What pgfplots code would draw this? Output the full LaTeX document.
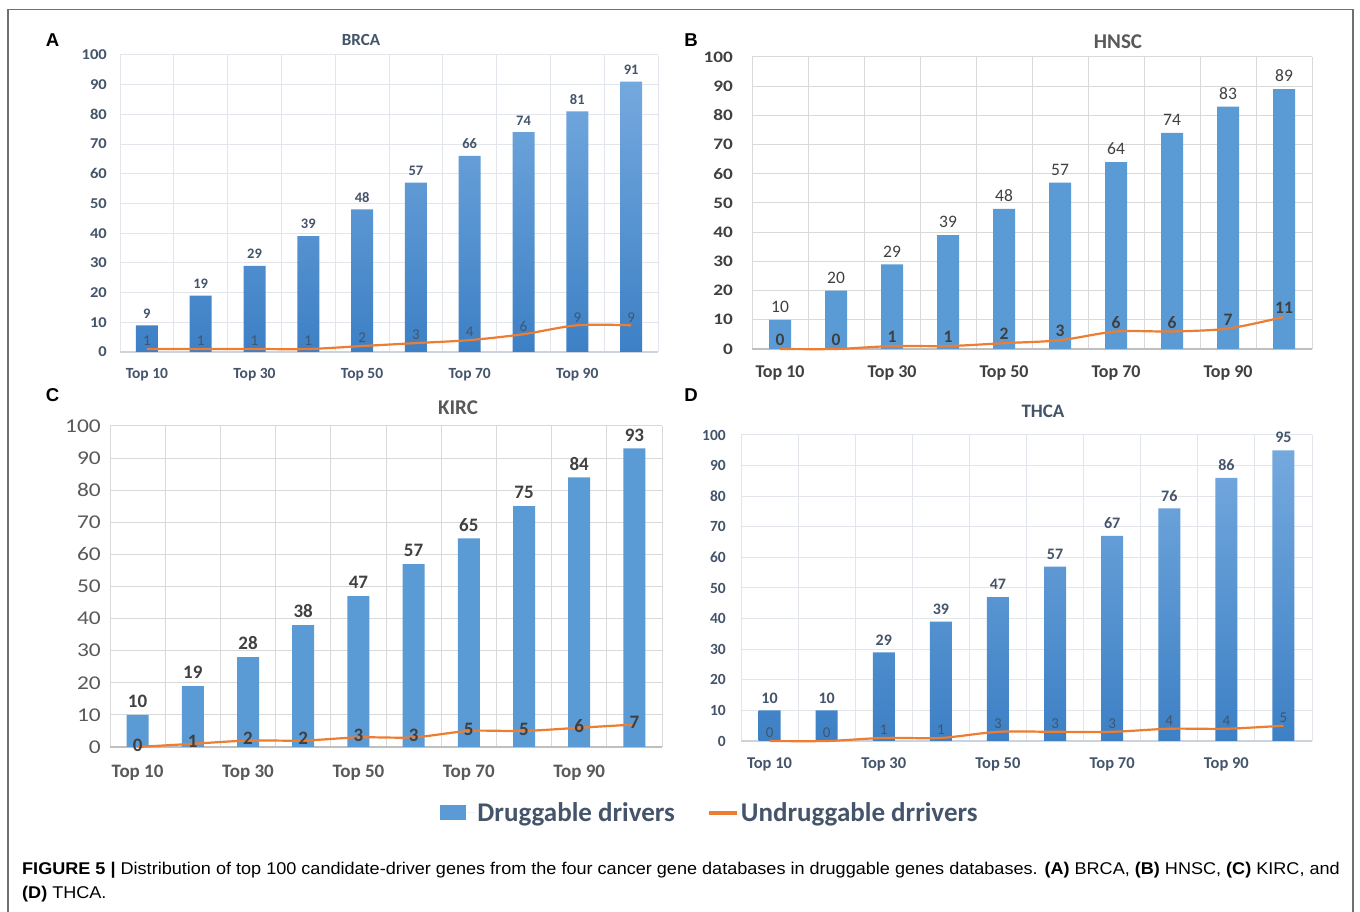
\documentclass[border=0pt]{standalone}
\usepackage{pgfplots}
\pgfplotsset{compat=1.18}
\usepackage{fontspec}
\setmainfont{Carlito}
\newfontfamily\calw[FakeStretch=1.2]{Carlito}
\newfontfamily\calm[FakeStretch=1.1]{Carlito}
\newfontfamily\arialf{Liberation Sans}
\newfontfamily\capf[FakeStretch=1.063]{Liberation Sans}
\definecolor{gridA}{HTML}{E2E6EC}
\definecolor{gridAx}{HTML}{CDD3DB}
\definecolor{gridB}{HTML}{D9D9D9}
\definecolor{gridBx}{HTML}{BFBFBF}
\definecolor{txtA}{HTML}{44546A}
\definecolor{txtB}{HTML}{404040}
\definecolor{txtC}{HTML}{595959}
\definecolor{barB}{HTML}{5B9BD5}
\definecolor{barTop}{HTML}{74A9DE}
\definecolor{barBot}{HTML}{3D80C5}
\definecolor{lineO}{HTML}{ED7D31}
\definecolor{frameC}{HTML}{707070}
\newcommand{\fs}[1]{\fontsize{#1}{#1}\selectfont}
\pgfplotsset{
 panel/.style={
  scale only axis, clip=false, anchor=south west,
  xmin=-0.5, xmax=9.5, ymin=0, ymax=100,
  xtick={0,2,4,6,8},
  xticklabels={Top 10,Top 30,Top 50,Top 70,Top 90},
  minor xtick={-0.5,0.5,...,9.5},
  ytick={0,10,...,100},
  xminorgrids, ymajorgrids,
  axis x line*=bottom, axis y line*=left,
  y axis line style={draw=none},
  major tick length=0pt, minor tick length=0pt,
  tick label style={inner sep=0pt},
  /pgf/number format/assume math mode=true,
 },
 bars/.style={ybar, bar width=22pt, bar shift=0pt, draw=none, nodes near coords,
   every node near coord/.append style={anchor=south, inner sep=0pt, yshift=7pt}},
 drv/.style={draw=lineO, line width=2.2pt, smooth, tension=0.5, mark=none, nodes near coords,
   every node near coord/.append style={anchor=center, inner sep=0pt}},
}
\begin{document}
\begin{tikzpicture}[x=1pt,y=1pt]
\useasboundingbox (0,0) rectangle (1360,912);
\fill[white] (0,0) rectangle (1360,912);
\draw[frameC, line width=1.3pt] (8,-5) -- (8,902.5) -- (1353,902.5) -- (1353,-5);

% ---------- A: BRCA ----------
\begin{axis}[panel, at={(120pt,560pt)}, width=538pt, height=297pt,
  grid style={draw=gridA, line width=1pt}, minor grid style={draw=gridA, line width=1pt},
  x axis line style={draw=gridAx, line width=1.2pt, -},
  yticklabel style={font=\calm\bfseries\fs{15}, text=txtA, anchor=east, xshift=-13pt},
  xticklabel style={font=\bfseries\fs{15.5}, text=txtA, anchor=mid, yshift=-24pt}]
\addplot[bars, top color=barTop, bottom color=barBot,
  every node near coord/.append style={font=\bfseries\fs{14.5}, text=txtA}]
  coordinates {(0,9)(1,19)(2,29)(3,39)(4,48)(5,57)(6,66)(7,74)(8,81)(9,91)};
\addplot[drv, every node near coord/.append style={font=\fs{15}, text=txtA, yshift=8pt}]
  coordinates {(0,1)(1,1)(2,1)(3,1)(4,2)(5,3)(6,4)(7,6)(8,9)(9,9)};
\end{axis}

% ---------- B: HNSC ----------
\begin{axis}[panel, at={(752pt,563pt)}, width=560pt, height=292pt,
  grid style={draw=gridB, line width=1pt}, minor grid style={draw=gridB, line width=1pt},
  x axis line style={draw=gridBx, line width=1.2pt, -},
  yticklabel style={font=\calw\bfseries\fs{16}, text=txtB, anchor=east, xshift=-19pt},
  xticklabel style={font=\bfseries\fs{18}, text=txtB, anchor=mid, yshift=-26pt}]
\addplot[bars, fill=barB,
  every node near coord/.append style={font=\fs{17.5}, text=txtB}]
  coordinates {(0,10)(1,20)(2,29)(3,39)(4,48)(5,57)(6,64)(7,74)(8,83)(9,89)};
\addplot[drv, every node near coord/.append style={font=\bfseries\fs{17.5}, text=txtB, yshift=9pt}]
  coordinates {(0,0)(1,0)(2,1)(3,1)(4,2)(5,3)(6,6)(7,6)(8,7)(9,11)};
\end{axis}

% ---------- C: KIRC ----------
\begin{axis}[panel, at={(110pt,165pt)}, width=552pt, height=321pt,
  grid style={draw=gridB, line width=1pt}, minor grid style={draw=gridB, line width=1pt},
  x axis line style={draw=gridBx, line width=1.2pt, -},
  yticklabel style={font=\calw\fs{19.5}, text=txtC, anchor=east, xshift=-9pt},
  xticklabel style={font=\bfseries\fs{19}, text=txtC, anchor=mid, yshift=-28pt},
  legend columns=2,
  legend style={at={(1.087,-0.2056)}, anchor=center, draw=none, fill=none,
    font=\bfseries\fs{27}, text=txtA,
    /tikz/every even column/.append style={column sep=30pt}}]
\addplot[bars, fill=barB,
  every node near coord/.append style={font=\bfseries\fs{19}, text=txtB},
  legend image code/.code={\fill[barB] (0pt,-7.5pt) rectangle (26pt,7.5pt);
     \path (26pt,0pt) -- (35pt,0pt);}]
  coordinates {(0,10)(1,19)(2,28)(3,38)(4,47)(5,57)(6,65)(7,75)(8,84)(9,93)};
\addlegendentry{Druggable drivers}
\addplot[drv, every node near coord/.append style={font=\bfseries\fs{19}, text=txtB, yshift=2pt},
  legend image code/.code={\draw[lineO, line width=4pt] (0pt,0pt) -- (28pt,0pt);}]
  coordinates {(0,0)(1,1)(2,2)(3,2)(4,3)(5,3)(6,5)(7,5)(8,6)(9,7)};
\addlegendentry{Undruggable drrivers}
\end{axis}

% ---------- D: THCA ----------
\begin{axis}[panel, at={(741pt,171pt)}, width=571pt, height=306pt,
  grid style={draw=gridA, line width=1pt}, minor grid style={draw=gridA, line width=1pt},
  x axis line style={draw=gridAx, line width=1.2pt, -},
  yticklabel style={font=\bfseries\fs{15.5}, text=txtA, anchor=east, xshift=-15pt},
  xticklabel style={font=\bfseries\fs{16.5}, text=txtA, anchor=mid, yshift=-25pt}]
\addplot[bars, top color=barTop, bottom color=barBot,
  every node near coord/.append style={font=\bfseries\fs{16}, text=txtA}]
  coordinates {(0,10)(1,10)(2,29)(3,39)(4,47)(5,57)(6,67)(7,76)(8,86)(9,95)};
\addplot[drv, every node near coord/.append style={font=\fs{15}, text=txtA, yshift=8pt}]
  coordinates {(0,0)(1,0)(2,1)(3,1)(4,3)(5,3)(6,3)(7,4)(8,4)(9,5)};
\end{axis}

% titles and panel letters
\node[font=\bfseries\fs{17}, text=txtA] at (361,872) {BRCA};
\node[font=\bfseries\fs{21}, text=txtC] at (1118,870) {HNSC};
\node[font=\bfseries\fs{21}, text=txtC] at (458,504) {KIRC};
\node[font=\bfseries\fs{19}, text=txtA] at (1043,501) {THCA};
\node[font=\arialf\bfseries\fs{18.6}] at (52.5,872) {A};
\node[font=\arialf\bfseries\fs{18.6}] at (691,872) {B};
\node[font=\arialf\bfseries\fs{18.6}] at (52.5,517) {C};
\node[font=\arialf\bfseries\fs{18.6}] at (691,517) {D};

% caption
\node[anchor=base west, inner sep=0pt, font=\capf\fs{17}] at (22,37)
 {\textbf{FIGURE 5 |} Distribution of top 100 candidate-driver genes from the four cancer gene databases in druggable genes databases. \textbf{(A)} BRCA, \textbf{(B)} HNSC, \textbf{(C)} KIRC, and};
\node[anchor=base west, inner sep=0pt, font=\capf\fs{17}] at (22,13)
 {\textbf{(D)} THCA.};
\end{tikzpicture}
\end{document}
